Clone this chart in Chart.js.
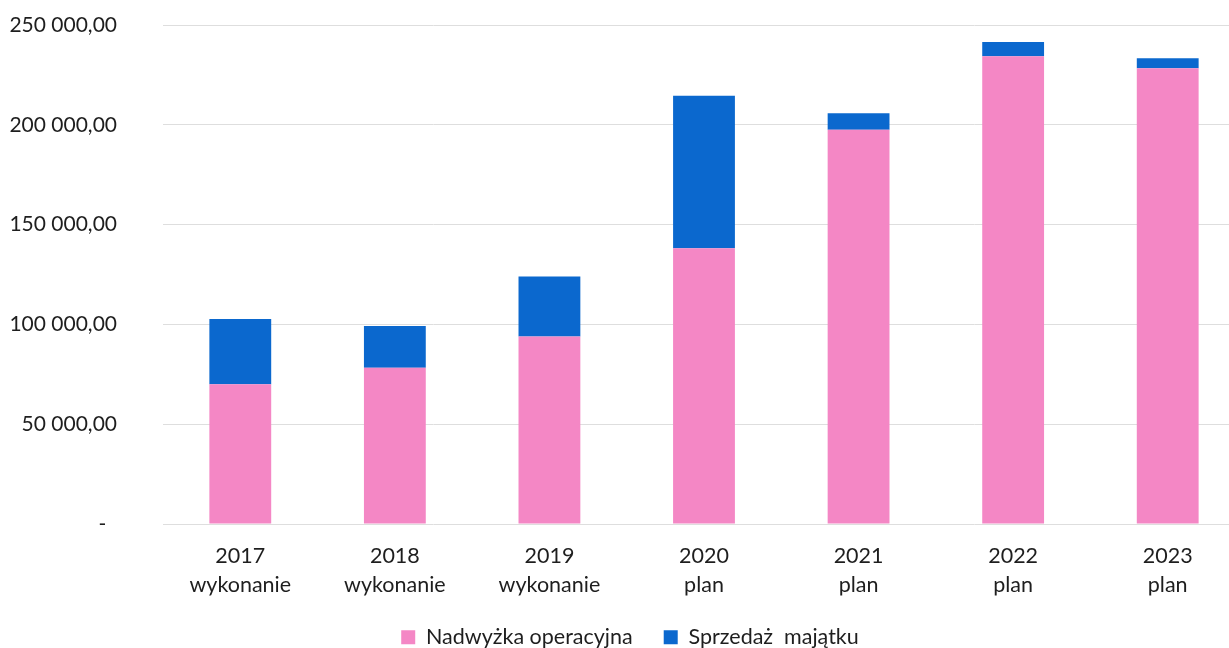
<!DOCTYPE html>
<html>
<head>
<meta charset="utf-8">
<script src="https://cdn.jsdelivr.net/npm/chart.js@4/dist/chart.umd.min.js"></script>
<style>
html,body{margin:0;padding:0;background:#fff;overflow:hidden;}
#wrap{width:1245px;height:658px;}
</style>
</head>
<body>
<div id="wrap"><canvas id="c"></canvas></div>
<script>
const categories = [["2017","wykonanie"],["2018","wykonanie"],["2019","wykonanie"],["2020","plan"],["2021","plan"],["2022","plan"],["2023","plan"]];
const seriesNames = ["Nadwyżka operacyjna", "Sprzedaż  majątku"];
const nadwyzka = [70000, 78300, 94000, 138200, 197500, 234300, 228300];
const sprzedaz = [32700, 20900, 30000, 76300, 8300, 7200, 5000];
const yTicks = [0, 50000, 100000, 150000, 200000, 250000];

const FONT = "Lato, 'Noto Sans', sans-serif";
function fmt(v){
  if (v === 0) return "-  ";
  const s = Math.round(v).toString().replace(/\B(?=(\d{3})+(?!\d))/g, " ");
  return s + ",00";
}

new Chart(document.getElementById('c'), {
  type: 'bar',
  data: {
    labels: categories,
    datasets: [
      {label: seriesNames[0], data: nadwyzka, backgroundColor: '#F487C5', borderWidth: 0},
      {label: seriesNames[1], data: sprzedaz, backgroundColor: '#0B68CE', borderWidth: 0}
    ]
  },
  options: {
    responsive: true,
    maintainAspectRatio: false,
    animation: false,
    devicePixelRatio: 1,
    layout: {padding: {top: 25, right: 0, left: 15, bottom: 0}},
    datasets: {bar: {categoryPercentage: 1, barPercentage: 0.4}},
    plugins: {
      legend: {
        position: 'bottom',
        labels: {
          font: {family: FONT, size: 21.5},
          color: '#1e1e1e',
          boxWidth: 14, boxHeight: 14,
          padding: 31
        }
      },
      tooltip: {enabled: false}
    },
    scales: {
      x: {
        stacked: true,
        grid: {display: false, drawTicks: false},
        border: {display: false},
        afterFit: (s) => { s.height = 71.5; },
        ticks: {font: {family: FONT, size: 21.5, lineHeight: 1.35}, color: '#1e1e1e', padding: 18, maxRotation: 0}
      },
      y: {
        stacked: true,
        min: 0, max: 250000,
        afterBuildTicks: (s) => { s.ticks = yTicks.map(v => ({value: v})); },
        afterFit: (s) => {
          s.width = 148; s.paddingTop = 0; s.paddingBottom = 0;
          s._computeLabelArea = function(){ return undefined; };
        },
        grid: {color: '#dedede', lineWidth: 1, drawTicks: false},
        border: {display: false},
        ticks: {
          font: {family: FONT, size: 21}, color: '#1e1e1e', padding: 46,
          callback: (v) => fmt(v)
        }
      }
    }
  }
});
</script>
</body>
</html>
